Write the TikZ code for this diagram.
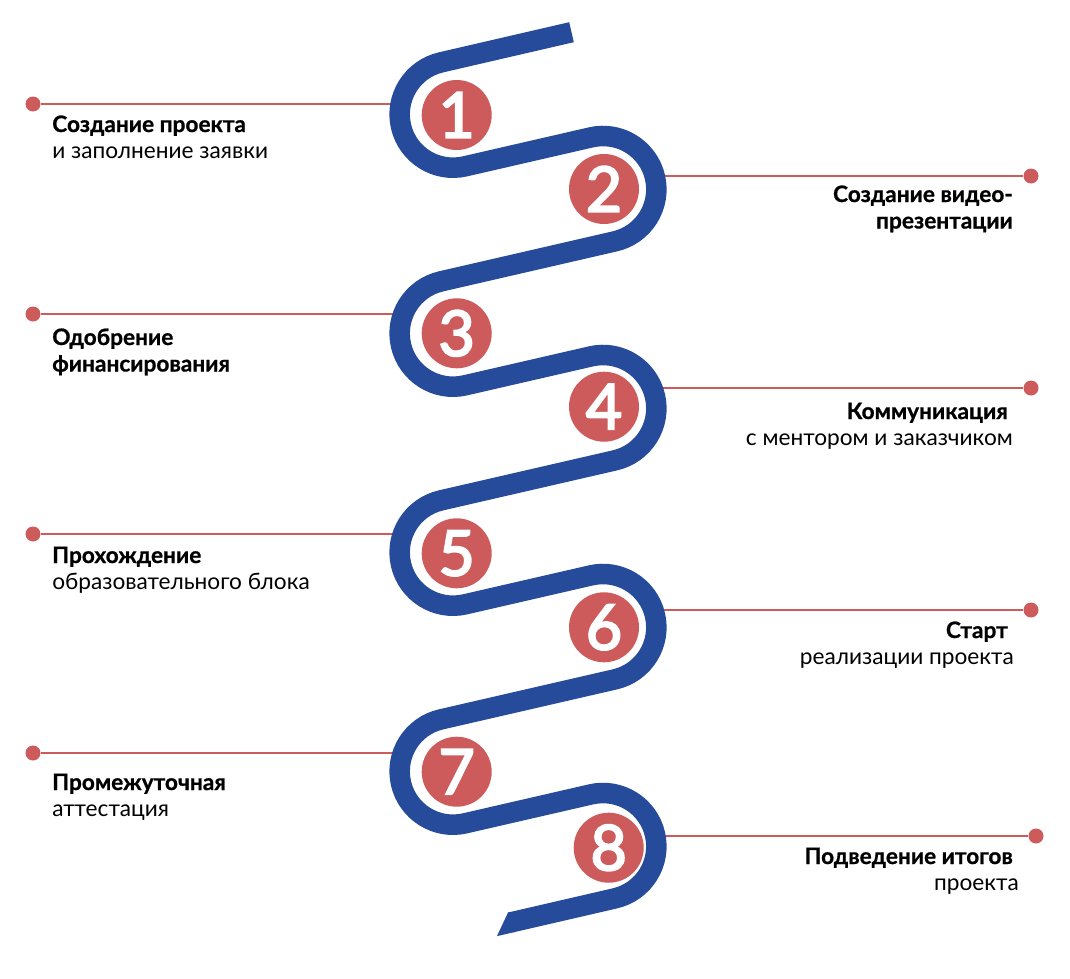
\documentclass[tikz,border=0pt]{standalone}
\usepackage{fontspec}
\setmainfont{Lato}[BoldFeatures={FakeBold=0.8}]
\newfontfamily\numfont{Lato}[FakeBold=3.2]
\definecolor{rb}{HTML}{264B9B}
\definecolor{rd}{HTML}{CD5B5B}
\begin{document}
\begin{tikzpicture}[x=0.75pt,y=-0.75pt,
  dotnode/.style={circle, fill=rd, inner sep=0pt, minimum size=11.25pt},
  link/.style={draw=rd, line width=2pt},
  ribbon/.style={draw=rb, line width=15.4pt, line cap=butt},
  numcirc/.style={circle, fill=rd, inner sep=0pt, minimum size=52.5pt, text=white, font=\numfont\fontsize{47}{47}\selectfont},
  ttl/.style={inner sep=0pt, font=\bfseries\fontsize{17}{19}\selectfont},
  sub/.style={inner sep=0pt, font=\fontsize{17}{19}\selectfont}]
\useasboundingbox (0,0) rectangle (1070,978);

% connector lines
\node[dotnode] (d1) at (33,104) {};   \coordinate (e1) at (401,104);
\node[dotnode] (d3) at (33,314) {};   \coordinate (e3) at (403,314);
\node[dotnode] (d5) at (33,534) {};   \coordinate (e5) at (403,534);
\node[dotnode] (d7) at (33,753) {};   \coordinate (e7) at (403,753);
\node[dotnode] (d2) at (1031,176) {}; \coordinate (e2) at (654,176);
\node[dotnode] (d4) at (1031,388) {}; \coordinate (e4) at (652,388);
\node[dotnode] (d6) at (1031,610) {}; \coordinate (e6) at (653,610);
\node[dotnode] (d8) at (1036,836) {}; \coordinate (e8) at (655,836);
\foreach \i in {1,...,8} {\draw[link] (d\i) -- (e\i);}

% ribbon
\draw[ribbon] (571.5,32.2) -- (441,62.37)
  arc[start angle=257, end angle=77, radius=53.35]
  -- (591,137.37) arc[start angle=-103, end angle=77, radius=53.35]
  -- (441,281.37) arc[start angle=257, end angle=77, radius=53.35]
  -- (591,356.37) arc[start angle=-103, end angle=77, radius=53.35]
  -- (441,500.37) arc[start angle=257, end angle=77, radius=53.35]
  -- (591,575.37) arc[start angle=-103, end angle=77, radius=53.35]
  -- (441,719.37) arc[start angle=257, end angle=77, radius=53.35]
  -- (591,794.37) arc[start angle=-103, end angle=77, radius=53.35]
  -- (510.35,922.5);
\fill[rb] (510.38,911.97) -- (508.04,912.51) -- (496.97,936.11) -- (515.0,931.95) -- cycle;

% numbered circles
\node[numcirc] (n1) at (456.7,115) {1};
\node[numcirc] (n2) at (604,189) {2};
\node[numcirc] (n3) at (456.7,333.3) {3};
\node[numcirc] (n4) at (604,406.7) {4};
\node[numcirc] (n5) at (456.7,553.3) {5};
\node[numcirc] (n6) at (604,627.3) {6};
\node[numcirc] (n7) at (456.7,771.7) {7};
\node[numcirc] (n8) at (608.7,847.7) {8};

% labels left
\node[ttl, anchor=base west] (t1a) at (52,132) {Создание проекта};
\node[sub, anchor=base west] (t1b) at (52,158) {и заполнение заявки};
\node[ttl, anchor=base west] (t3a) at (52,345) {Одобрение};
\node[ttl, anchor=base west] (t3b) at (52,371.5) {финансирования};
\node[ttl, anchor=base west] (t5a) at (52,563) {Прохождение};
\node[sub, anchor=base west] (t5b) at (52,589.5) {образовательного блока};
\node[ttl, anchor=base west] (t7a) at (52,790) {Промежуточная};
\node[sub, anchor=base west] (t7b) at (52,816.5) {аттестация};
% labels right
\node[ttl, anchor=base east] (t2a) at (1013,202) {Создание видео-};
\node[ttl, anchor=base east] (t2b) at (1013,228.5) {презентации};
\node[ttl, anchor=base east] (t4a) at (1008,419) {Коммуникация};
\node[sub, anchor=base east] (t4b) at (1013,445.5) {с ментором и заказчиком};
\node[ttl, anchor=base east] (t6a) at (1008,638) {Старт};
\node[sub, anchor=base east] (t6b) at (1014,664.5) {реализации проекта};
\node[ttl, anchor=base east] (t8a) at (1013,864) {Подведение итогов};
\node[sub, anchor=base east] (t8b) at (1019,890.5) {проекта};
\end{tikzpicture}
\end{document}
